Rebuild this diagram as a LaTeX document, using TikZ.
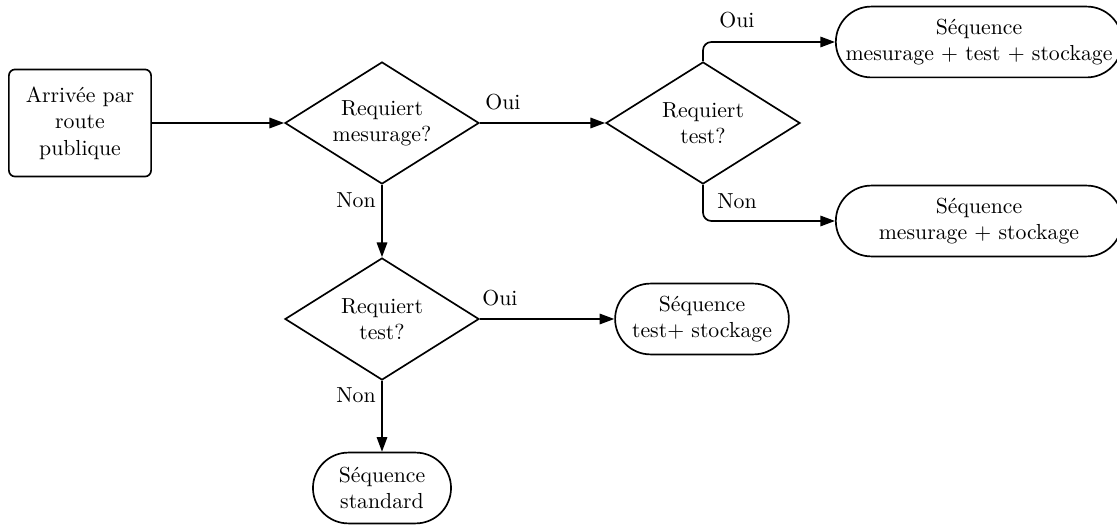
\documentclass[tikz,border=0pt]{standalone}
\usepackage{tikz}
\usetikzlibrary{arrows.meta,positioning,shapes.geometric,shapes.misc}
\tikzset{every node/.style={font=\fontsize{10.4}{12.6}\selectfont}}
\tikzset{startbox/.style={draw,rectangle,rounded corners=3pt,align=center,minimum width=2.39cm,minimum height=1.8cm,inner sep=1pt}}
\tikzset{choice/.style={draw,diamond,aspect=1.59,align=center,minimum width=3.26cm,minimum height=2.05cm,inner sep=0pt}}
\tikzset{term/.style={draw,rounded rectangle,align=center,minimum height=1.19cm,inner sep=2pt}}

\begin{document}
\begin{tikzpicture}[x=0.0168cm, y=-0.0168cm, ->, >={Triangle[length=7pt,width=5pt]}, thick]
    \useasboundingbox (0,0) rectangle (1117,527);

    \node[startbox] (arr) at (80,123) {Arrivée par\\route\\publique};
    \node[choice] (mes) at (382,123) {Requiert\\mesurage?};
    \node[choice] (tst) at (703,123) {Requiert\\test?};
    \node[choice] (tsb) at (382,319) {Requiert\\test?};

    \node[term, minimum width=4.95cm, anchor=west] (mts) at (835,42) {Séquence\\mesurage + test + stockage};
    \node[term, minimum width=4.95cm, anchor=west] (ms) at (835,221) {Séquence\\mesurage + stockage};
    \node[term, minimum width=3.06cm] (ts) at (702,319) {Séquence\\test+ stockage};
    \node[term, minimum width=2.46cm] (std) at (382,488) {Séquence\\standard};

    \path (arr) edge (mes);
    \path (mes) edge (tst);
    \path (mes) edge (tsb);
    \path (tsb) edge (ts);
    \path (tsb) edge (std);
    \draw[rounded corners=4pt] (tst.north) |- (mts.west);
    \draw[rounded corners=4pt] (tst.south) |- (ms.west);

    \node[anchor=center] (l1) at (503,102) {Oui};
    \node[anchor=center] (l2) at (737,20) {Oui};
    \node[anchor=center] (l3) at (737,201) {Non};
    \node[anchor=center] (l4) at (356,200) {Non};
    \node[anchor=center] (l5) at (500,298) {Oui};
    \node[anchor=center] (l6) at (356,395) {Non};
\end{tikzpicture}
\end{document}
